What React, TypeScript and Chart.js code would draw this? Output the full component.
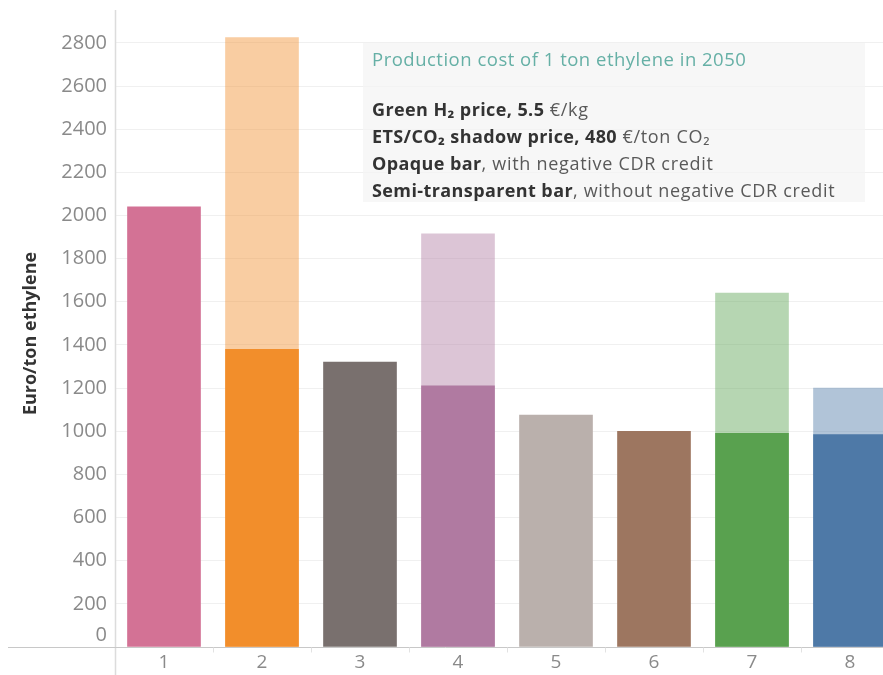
import React, { useEffect, useRef } from 'react';
import { Chart, registerables } from 'chart.js';
Chart.register(...registerables);

const categories = [1, 2, 3, 4, 5, 6, 7, 8];
const withCdrCredit = [2040, 1380, 1320, 1210, 1075, 1000, 990, 985];
const withoutCdrCredit = [null, 2825, null, 1915, null, null, 1640, 1200];
const yTickValues = [0, 200, 400, 600, 800, 1000, 1200, 1400, 1600, 1800, 2000, 2200, 2400, 2600, 2800];
const barColors = ['#d37295', '#f28e2b', '#79706e', '#b07aa1', '#bab0ac', '#9d7660', '#59a14f', '#4e79a7'];
const lightColors = [
  'rgba(211,114,149,0.44)',
  'rgba(242,142,43,0.44)',
  'rgba(121,112,110,0.44)',
  'rgba(176,122,161,0.44)',
  'rgba(186,176,172,0.44)',
  'rgba(157,118,96,0.44)',
  'rgba(89,161,79,0.44)',
  'rgba(78,121,167,0.44)',
];

const FONT = '"Open Sans", "Noto Sans", sans-serif';
const TICK_COLOR = '#8a8a8a';

export default function App() {
  const canvasRef = useRef<HTMLCanvasElement | null>(null);

  useEffect(() => {
    if (!canvasRef.current) return;
    const axisPlugin = {
      id: 'tableauAxes',
      afterDraw(chart: any) {
        const ctx = chart.ctx;
        const x = chart.scales.x;
        const y = chart.scales.y;
        const area = chart.chartArea;
        ctx.save();
        ctx.strokeStyle = '#dcdcdc';
        ctx.lineWidth = 1.5;
        ctx.beginPath();
        ctx.moveTo(area.left + 0.5, 10);
        ctx.lineTo(area.left + 0.5, chart.height);
        ctx.stroke();
        const y0 = Math.round(y.getPixelForValue(0)) + 0.5;
        ctx.strokeStyle = '#c8c8c8';
        ctx.lineWidth = 1;
        ctx.beginPath();
        ctx.moveTo(8, y0);
        ctx.lineTo(chart.width, y0);
        ctx.stroke();
        ctx.strokeStyle = '#e2e2e2';
        for (let i = 0; i < categories.length - 1; i++) {
          const px = Math.round(x.getPixelForValue(categories[i] + 0.5)) + 0.5;
          ctx.beginPath();
          ctx.moveTo(px, y0);
          ctx.lineTo(px, y0 + 5);
          ctx.stroke();
        }
        ctx.fillStyle = TICK_COLOR;
        ctx.font = '20px ' + FONT;
        ctx.textAlign = 'right';
        ctx.textBaseline = 'middle';
        ctx.fillText(String(yTickValues[0]), area.left - 8, y.getPixelForValue(0) - 12);
        ctx.restore();
      },
    };

    const chart = new Chart(canvasRef.current, {
      type: 'bar',
      data: {
        datasets: [
          {
            label: 'With negative CDR credit',
            data: categories.map((c, i) => ({ x: c, y: withCdrCredit[i] })),
            backgroundColor: barColors,
            order: 0,
            grouped: false,
            barThickness: 73,
          } as any,
          {
            label: 'Without negative CDR credit',
            data: categories.map((c, i) => ({ x: c, y: withoutCdrCredit[i] })),
            backgroundColor: lightColors,
            order: 1,
            grouped: false,
            barThickness: 73,
          } as any,
        ],
      },
      plugins: [axisPlugin],
      options: {
        animation: false,
        responsive: false,
        maintainAspectRatio: false,
        layout: { padding: { top: 0, right: 0, bottom: 0, left: 0 } },
        plugins: { legend: { display: false }, tooltip: { enabled: false } },
        scales: {
          x: {
            type: 'linear',
            offset: false,
            min: 0.5,
            max: 0.5 + 768 / 98,
            grid: { display: false, drawTicks: false },
            border: { display: false },
            afterBuildTicks: (s: any) => {
              s.ticks = categories.map((v) => ({ value: v }));
            },
            afterFit: (s: any) => {
              s.height = 28;
            },
            ticks: {
              color: TICK_COLOR,
              font: { family: FONT, size: 19 },
              padding: 4,
              maxRotation: 0,
              autoSkip: false,
              callback: (v: any) => String(v),
            },
          },
          y: {
            min: 0,
            max: 2906,
            afterBuildTicks: (s: any) => {
              s.ticks = yTickValues.map((v) => ({ value: v }));
            },
            afterFit: (s: any) => {
              s.width = 115;
            },
            grid: { color: '#f0f0f0', drawTicks: false },
            border: { display: false },
            ticks: {
              color: TICK_COLOR,
              font: { family: FONT, size: 20 },
              padding: 8,
              callback: (v: any) => (v === 0 ? '' : String(v)),
            },
            title: {
              display: true,
              text: 'Euro/ton ethylene',
              color: '#333',
              font: { family: FONT, size: 18, weight: 'bold' },
              padding: { top: 20, bottom: 0 },
            },
          },
        },
      } as any,
    });
    return () => chart.destroy();
  }, []);

  const bold = { fontWeight: 700, color: '#333', letterSpacing: '0.4px' } as React.CSSProperties;
  const normal = { color: '#595959', letterSpacing: '0.7px' } as React.CSSProperties;

  return (
    <div style={{ position: 'fixed', left: 0, top: 0, width: 883, height: 675, background: '#fff', fontFamily: FONT }}>
      <canvas ref={canvasRef} width={883} height={675} style={{ position: 'absolute', left: 0, top: 0 }} />
      <div
        style={{
          position: 'absolute',
          left: 363,
          top: 43,
          width: 502,
          height: 159,
          background: 'rgba(244,244,244,0.7)',
          fontSize: 18,
          lineHeight: '27px',
          boxSizing: 'border-box',
        }}
      >
        <div style={{ position: 'absolute', left: 9, top: 2, color: '#66b0a6', whiteSpace: 'nowrap', fontSize: 18.5, letterSpacing: '0.5px' }}>
          Production cost of 1 ton ethylene in 2050
        </div>
        <div style={{ position: 'absolute', left: 9, top: 53, whiteSpace: 'nowrap' }}>
          <div>
            <span style={bold}>Green H₂ price, 5.5</span>
            <span style={normal}> €/kg</span>
          </div>
          <div>
            <span style={bold}>ETS/CO₂ shadow price, 480</span>
            <span style={normal}> €/ton CO₂</span>
          </div>
          <div>
            <span style={bold}>Opaque bar</span>
            <span style={normal}>, with negative CDR credit</span>
          </div>
          <div>
            <span style={bold}>Semi-transparent bar</span>
            <span style={normal}>, without negative CDR credit</span>
          </div>
        </div>
      </div>
    </div>
  );
}
